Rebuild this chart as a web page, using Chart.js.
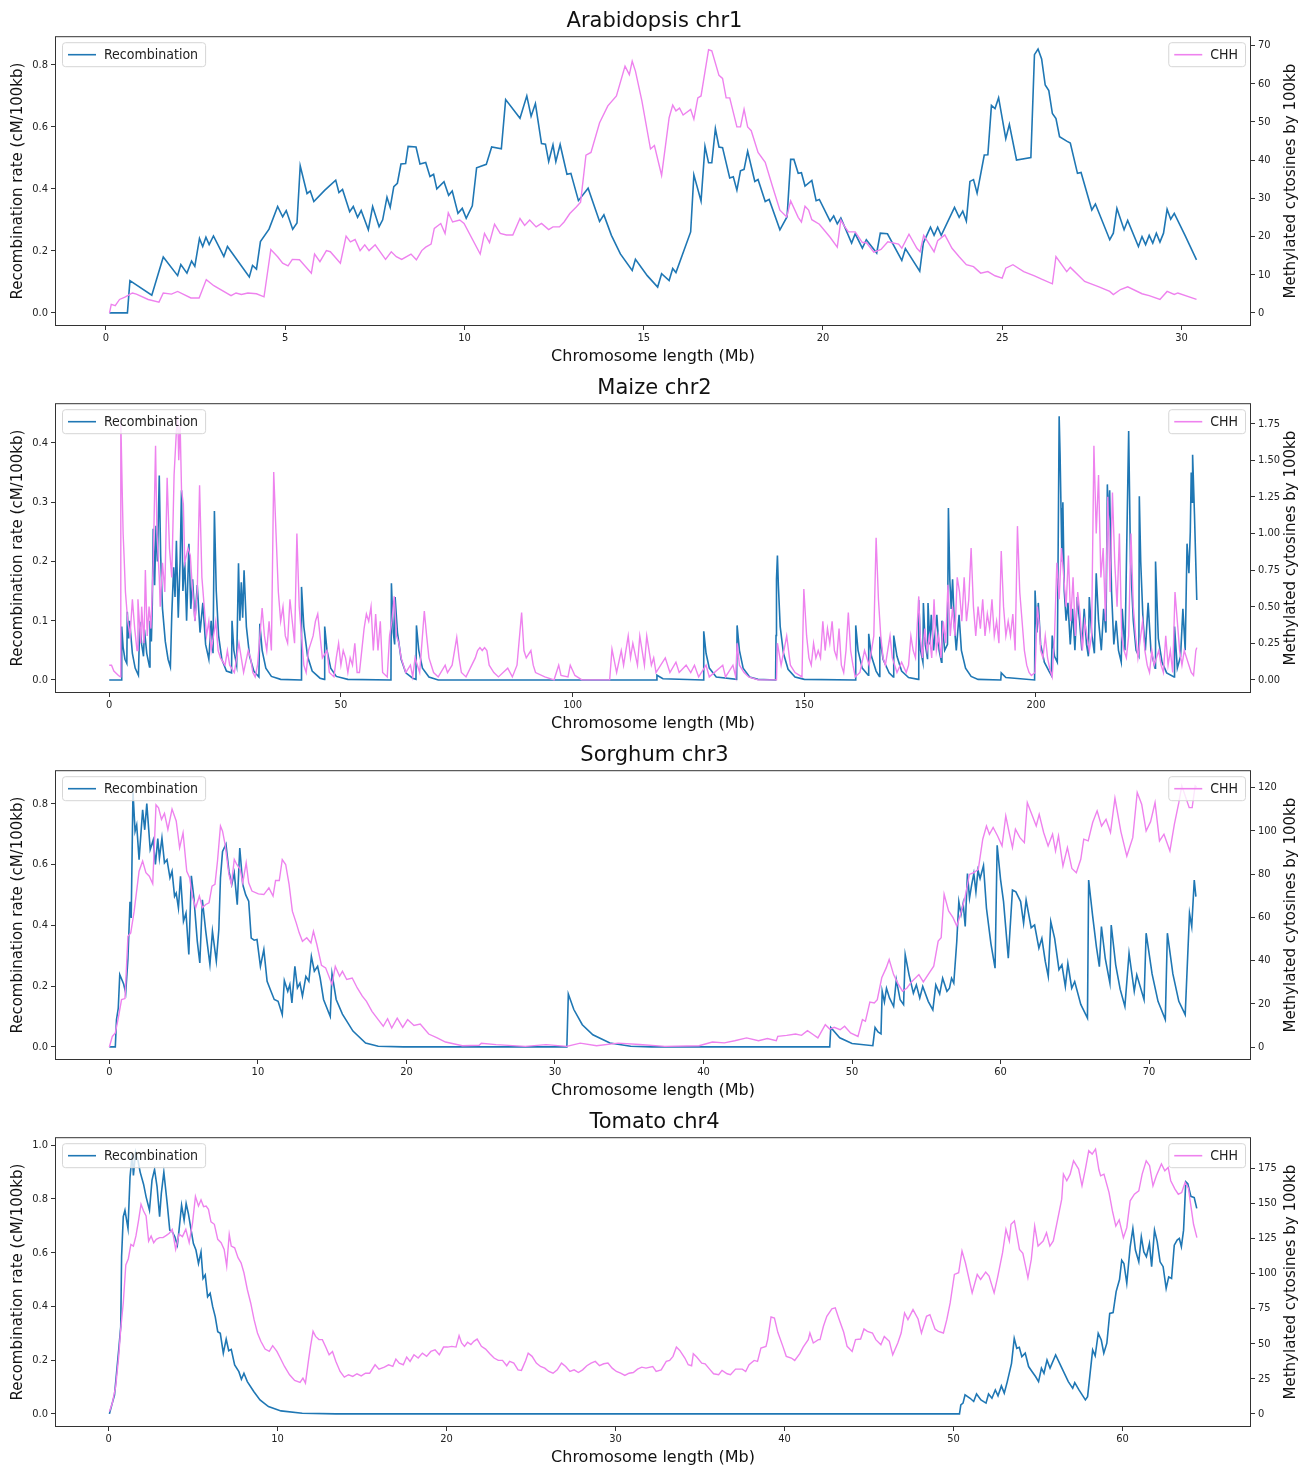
<!DOCTYPE html>
<html>
<head>
<meta charset="utf-8">
<script src="https://cdn.jsdelivr.net/npm/chart.js@4.4.1/dist/chart.umd.min.js"></script>
<style>
  body { margin: 0; background: #fff; width: 1309px; height: 1465px; overflow: hidden; position: relative; }
  .panel { position: absolute; left: 0; width: 1309px; height: 367px; }
</style>
</head>
<body>
<div class="panel" style="top:0"><canvas id="ara"></canvas></div>
<div class="panel" style="top:367px"><canvas id="maize"></canvas></div>
<div class="panel" style="top:734px"><canvas id="sorghum"></canvas></div>
<div class="panel" style="top:1101px"><canvas id="tomato"></canvas></div>
<script>
// ---- Data: [position (Mb), value] ----
const araRecombination = [[0.1,0],[0.6,0],[0.67,0.104],[1.28,0.057],[1.6,0.18],[2.0,0.12],[2.09,0.156],[2.26,0.128],[2.39,0.167],[2.48,0.15],[2.61,0.24],[2.7,0.214],[2.79,0.244],[2.88,0.22],[3.0,0.248],[3.29,0.182],[3.39,0.214],[4.0,0.116],[4.09,0.153],[4.2,0.141],[4.31,0.23],[4.55,0.27],[4.79,0.343],[4.93,0.31],[5.03,0.33],[5.21,0.27],[5.33,0.29],[5.42,0.474],[5.61,0.385],[5.7,0.393],[5.8,0.359],[6.1,0.395],[6.41,0.428],[6.5,0.388],[6.6,0.398],[6.8,0.326],[6.9,0.343],[7.02,0.308],[7.12,0.33],[7.32,0.268],[7.44,0.343],[7.62,0.278],[7.72,0.3],[7.84,0.373],[7.93,0.34],[8.03,0.407],[8.13,0.418],[8.23,0.48],[8.36,0.482],[8.43,0.537],[8.65,0.535],[8.76,0.48],[8.92,0.485],[9.04,0.44],[9.14,0.447],[9.23,0.4],[9.43,0.423],[9.56,0.379],[9.66,0.393],[9.82,0.321],[9.94,0.337],[10.05,0.305],[10.22,0.345],[10.34,0.468],[10.61,0.479],[10.76,0.535],[11.03,0.529],[11.15,0.688],[11.55,0.628],[11.74,0.7],[11.86,0.634],[11.98,0.675],[12.15,0.546],[12.26,0.544],[12.35,0.488],[12.47,0.542],[12.55,0.488],[12.67,0.543],[12.86,0.447],[12.97,0.45],[13.18,0.362],[13.45,0.402],[13.77,0.295],[13.89,0.316],[14.1,0.25],[14.35,0.19],[14.68,0.137],[14.77,0.173],[15.1,0.12],[15.39,0.083],[15.5,0.126],[15.71,0.104],[15.81,0.143],[15.9,0.13],[16.31,0.261],[16.4,0.445],[16.6,0.361],[16.71,0.537],[16.81,0.484],[16.9,0.484],[17.0,0.594],[17.1,0.535],[17.2,0.533],[17.4,0.435],[17.5,0.439],[17.6,0.396],[17.7,0.458],[17.8,0.463],[17.9,0.521],[18.1,0.424],[18.19,0.43],[18.39,0.359],[18.5,0.366],[18.8,0.268],[19.0,0.31],[19.1,0.495],[19.19,0.495],[19.31,0.45],[19.4,0.452],[19.5,0.409],[19.69,0.427],[19.81,0.362],[19.9,0.366],[20.2,0.296],[20.3,0.313],[20.4,0.287],[20.5,0.306],[20.8,0.225],[20.9,0.255],[21.1,0.209],[21.21,0.236],[21.5,0.193],[21.6,0.257],[21.8,0.255],[22.2,0.169],[22.3,0.207],[22.7,0.134],[22.8,0.225],[23.0,0.276],[23.1,0.25],[23.2,0.276],[23.3,0.25],[23.67,0.34],[23.8,0.308],[23.9,0.328],[24.0,0.296],[24.1,0.424],[24.2,0.43],[24.3,0.386],[24.5,0.509],[24.6,0.51],[24.7,0.669],[24.8,0.659],[24.9,0.694],[25.1,0.562],[25.2,0.608],[25.4,0.493],[25.8,0.501],[25.9,0.833],[26.0,0.851],[26.1,0.819],[26.2,0.735],[26.3,0.717],[26.4,0.643],[26.5,0.627],[26.6,0.568],[26.8,0.554],[26.9,0.548],[27.1,0.45],[27.2,0.453],[27.5,0.332],[27.6,0.351],[28.0,0.236],[28.1,0.257],[28.2,0.337],[28.4,0.268],[28.5,0.298],[28.8,0.214],[28.9,0.246],[29.0,0.22],[29.1,0.25],[29.2,0.225],[29.3,0.257],[29.4,0.228],[29.5,0.257],[29.6,0.334],[29.7,0.302],[29.8,0.321],[30.1,0.25],[30.42,0.171]];
const araCHH = [[0.1,0],[0.15,2.2],[0.26,1.9],[0.38,3.5],[0.53,4.1],[0.74,5.2],[0.85,4.9],[1.18,3.5],[1.48,2.8],[1.6,5.2],[1.83,4.9],[2.0,5.6],[2.37,3.9],[2.6,3.9],[2.8,8.7],[3.01,7.1],[3.49,4.5],[3.63,5.2],[3.78,4.8],[3.96,5.2],[4.2,5.0],[4.41,4.2],[4.6,16.6],[4.79,14.7],[4.93,13.0],[5.08,12.3],[5.2,14.0],[5.4,13.9],[5.73,10.4],[5.82,15.4],[5.97,13.4],[6.15,16.3],[6.26,16.0],[6.54,13.0],[6.7,20.1],[6.82,18.6],[6.95,19.2],[7.09,16.3],[7.22,17.8],[7.34,16.3],[7.51,17.8],[7.8,14.0],[7.96,16.0],[8.1,14.7],[8.25,14.0],[8.51,15.4],[8.66,13.9],[8.81,16.3],[8.92,17.2],[9.07,18.0],[9.16,22.1],[9.34,23.4],[9.46,20.8],[9.55,26.2],[9.67,23.8],[9.87,24.3],[9.99,23.4],[10.44,15.4],[10.56,20.8],[10.7,18.4],[10.84,23.2],[11.0,20.8],[11.17,20.4],[11.35,20.4],[11.55,24.7],[11.68,22.9],[11.82,24.3],[12.0,22.5],[12.15,23.4],[12.35,21.8],[12.47,22.5],[12.65,22.5],[12.78,23.8],[12.94,26.0],[13.12,27.7],[13.24,29.0],[13.39,41.3],[13.53,42.0],[13.77,49.8],[14.0,54.2],[14.24,56.8],[14.48,64.6],[14.6,62.4],[14.68,65.9],[14.77,63.3],[14.95,55.5],[15.19,42.9],[15.3,43.8],[15.5,36.0],[15.71,51.1],[15.81,54.4],[15.9,52.9],[16.0,53.6],[16.1,51.8],[16.31,53.3],[16.4,50.7],[16.51,56.3],[16.6,56.8],[16.81,68.9],[16.9,68.6],[17.1,62.2],[17.2,61.4],[17.3,56.3],[17.4,56.3],[17.6,48.7],[17.7,48.7],[17.8,53.3],[17.9,48.7],[18.0,47.7],[18.19,42.0],[18.39,39.4],[18.6,32.9],[18.8,26.9],[18.99,25.1],[19.1,29.3],[19.31,25.0],[19.4,23.8],[19.5,27.9],[19.6,26.9],[19.69,24.4],[19.9,23.2],[20.2,19.8],[20.4,17.2],[20.5,24.3],[20.6,22.7],[20.71,21.2],[20.9,21.2],[21.1,18.4],[21.21,18.4],[21.42,15.9],[21.62,16.6],[21.81,18.6],[22.11,18.0],[22.2,16.9],[22.4,20.6],[22.62,16.9],[22.71,16.0],[22.81,20.3],[23.0,17.5],[23.1,16.0],[23.2,18.9],[23.4,20.4],[23.6,16.9],[23.8,14.7],[24.0,12.6],[24.2,12.1],[24.4,10.4],[24.6,10.8],[24.8,9.7],[25.0,9.1],[25.1,11.7],[25.3,12.6],[25.6,10.8],[25.9,9.7],[26.1,8.8],[26.4,7.6],[26.5,14.7],[26.8,10.8],[26.9,11.9],[27.3,8.2],[27.7,6.8],[28.0,5.6],[28.1,4.8],[28.3,6.1],[28.5,6.8],[28.9,5.0],[29.1,4.5],[29.4,3.5],[29.6,5.6],[29.8,4.8],[29.9,5.2],[30.42,3.5]];

const maizeRecombination = [[0,0],[2.6,0],[2.7,0.09],[3.0,0.055],[3.4,0.035],[3.8,0.028],[3.9,0.115],[4.2,0.07],[4.4,0.1],[5.0,0.045],[5.6,0.02],[6.3,0.008],[6.6,0.098],[7.0,0.06],[7.4,0.04],[7.6,0.085],[8.1,0.045],[8.7,0.022],[8.8,0.1],[9.1,0.065],[9.3,0.13],[9.5,0.255],[9.8,0.16],[10.1,0.26],[10.4,0.2],[10.8,0.345],[11.1,0.21],[11.5,0.12],[12.1,0.065],[12.7,0.035],[13.2,0.022],[13.5,0.11],[13.9,0.19],[14.2,0.14],[14.5,0.235],[14.9,0.105],[15.3,0.2],[15.6,0.32],[15.9,0.15],[16.3,0.2],[16.7,0.1],[17.2,0.23],[17.6,0.12],[18.0,0.17],[18.5,0.1],[19.0,0.16],[19.6,0.08],[20.2,0.13],[20.8,0.06],[21.5,0.035],[22.0,0.1],[22.4,0.045],[22.7,0.285],[23.1,0.15],[23.6,0.075],[24.3,0.035],[25.3,0.015],[26.4,0.012],[26.5,0.1],[26.9,0.05],[27.5,0.025],[27.9,0.197],[28.2,0.1],[28.5,0.165],[28.8,0.105],[29.1,0.185],[29.6,0.09],[30.3,0.04],[31.2,0.015],[32.3,0.005],[32.5,0.095],[33.0,0.05],[33.8,0.02],[35.0,0.006],[37.0,0.001],[41.4,0],[41.5,0.157],[42.0,0.09],[42.8,0.04],[43.8,0.015],[45.5,0.003],[46.4,0.001],[46.5,0.09],[47.0,0.05],[47.8,0.02],[49.0,0.006],[51.5,0.001],[60.8,0],[60.9,0.163],[61.3,0.08],[61.6,0.06],[61.7,0.14],[62.2,0.08],[63.0,0.035],[64.0,0.012],[65.5,0.003],[66.2,0.001],[66.3,0.092],[66.8,0.05],[67.6,0.02],[69.0,0.005],[71,0],[118,0],[118.2,0.008],[119.5,0.002],[128.2,0],[128.3,0.082],[128.8,0.045],[129.5,0.02],[131,0.005],[135.4,0.001],[135.5,0.092],[136.0,0.05],[136.8,0.02],[138.2,0.005],[140,0.001],[143.8,0],[143.9,0.075],[144.0,0.17],[144.2,0.21],[144.4,0.16],[144.8,0.09],[145.5,0.045],[146.5,0.018],[148,0.005],[150,0.001],[161,0],[161.1,0.092],[161.6,0.05],[162.5,0.02],[163.8,0.008],[163.9,0.078],[164.5,0.04],[165.5,0.015],[166.2,0.006],[166.3,0.073],[167,0.035],[168.3,0.012],[169.2,0.005],[169.3,0.075],[170,0.04],[171,0.015],[172.5,0.004],[174.6,0.001],[174.7,0.135],[175.1,0.05],[175.6,0.03],[175.7,0.13],[176.1,0.06],[176.6,0.035],[176.7,0.13],[177.1,0.06],[177.4,0.11],[177.9,0.05],[178.6,0.11],[179.1,0.05],[179.6,0.03],[179.7,0.1],[180.3,0.05],[180.9,0.06],[181.1,0.29],[181.4,0.17],[181.7,0.12],[182.0,0.17],[182.4,0.09],[182.8,0.05],[183.4,0.11],[183.9,0.05],[184.8,0.02],[186,0.006],[187.5,0.001],[192.4,0],[192.5,0.012],[193.5,0.004],[199.7,0],[199.8,0.151],[200.2,0.08],[200.5,0.13],[201,0.06],[201.8,0.03],[202.8,0.015],[203.3,0.008],[203.5,0.075],[204,0.04],[204.6,0.03],[205.0,0.445],[205.2,0.38],[205.4,0.29],[205.6,0.2],[205.8,0.3],[206.1,0.15],[206.5,0.1],[206.9,0.13],[207.4,0.06],[207.9,0.12],[208.4,0.05],[208.9,0.14],[209.4,0.1],[209.9,0.05],[210.4,0.12],[210.9,0.06],[211.3,0.04],[211.5,0.14],[212.0,0.08],[212.6,0.045],[213.0,0.18],[213.5,0.1],[214.1,0.05],[214.6,0.12],[215.1,0.08],[215.4,0.33],[215.6,0.27],[215.9,0.32],[216.3,0.15],[216.8,0.06],[217.3,0.1],[217.8,0.05],[218.4,0.03],[218.6,0.12],[219.2,0.05],[220.0,0.42],[220.4,0.2],[221.0,0.1],[221.6,0.05],[222.2,0.04],[222.3,0.31],[222.6,0.2],[223.1,0.1],[223.6,0.05],[224.2,0.13],[224.8,0.05],[225.7,0.02],[225.8,0.2],[226.4,0.07],[227.2,0.03],[228.2,0.012],[229.8,0.005],[229.9,0.09],[230.5,0.02],[231.2,0.04],[231.7,0.12],[232.2,0.05],[232.6,0.23],[233.0,0.18],[233.3,0.25],[233.5,0.35],[233.7,0.3],[233.8,0.38],[234.2,0.28],[234.7,0.135]];
const maizeCHH = [[0,0.1],[0.5,0.1],[1.0,0.06],[2.0,0.03],[2.4,0.02],[2.5,1.78],[2.8,1.3],[3.0,1.0],[3.2,0.85],[3.5,0.6],[4.0,0.4],[4.5,0.3],[5.0,0.55],[5.5,0.35],[6.0,0.2],[6.2,0.55],[6.8,0.25],[7.0,0.5],[7.5,0.25],[7.8,0.75],[8.2,0.3],[8.6,0.5],[9.0,0.35],[9.5,0.8],[10.0,1.6],[10.3,1.0],[10.8,0.7],[11.0,0.5],[11.5,0.8],[12.0,0.6],[12.5,1.38],[13.0,0.9],[13.5,0.7],[14.0,1.4],[14.5,1.7],[14.8,1.8],[15.0,1.5],[15.3,1.75],[15.6,1.3],[16.0,1.2],[16.3,0.8],[17.0,0.9],[17.5,0.85],[18.0,0.6],[18.5,0.4],[19.0,0.6],[19.5,1.33],[20.0,0.7],[20.5,0.5],[21.0,0.3],[21.5,0.4],[22.0,0.2],[23.0,0.4],[23.5,0.2],[24.0,0.15],[25.0,0.1],[25.5,0.2],[26.0,0.1],[27.0,0.05],[28.0,0.25],[28.5,0.15],[29.0,0.05],[30.0,0.2],[30.5,0.15],[31.0,0.05],[31.5,0.02],[32.0,0.1],[33.0,0.49],[33.5,0.3],[34.0,0.2],[34.5,0.4],[35.0,0.2],[35.5,1.42],[36.0,1.0],[36.5,0.6],[37.0,0.4],[37.5,0.5],[38.0,0.3],[38.5,0.25],[39.0,0.55],[39.5,0.4],[40.0,0.25],[40.5,1.0],[41.0,0.5],[41.5,0.3],[42.0,0.1],[42.5,0.05],[43.0,0.2],[44.0,0.3],[44.5,0.4],[45.0,0.45],[45.5,0.3],[46.0,0.15],[47.0,0.2],[47.5,0.05],[48.5,0.02],[49.0,0.15],[49.5,0.25],[50.0,0.1],[50.5,0.2],[51.0,0.15],[51.5,0.05],[52.0,0.15],[52.5,0.1],[53.0,0.25],[53.5,0.05],[54.0,0.05],[55.0,0.35],[55.5,0.45],[56.0,0.4],[56.5,0.5],[57.0,0.2],[57.5,0.45],[58.0,0.2],[58.5,0.4],[59.0,0.05],[60.0,0.02],[60.5,0.3],[61.0,0.4],[61.5,0.57],[62.0,0.3],[62.5,0.25],[63.0,0.15],[64.0,0.05],[65.0,0.1],[65.5,0.02],[66.0,0.15],[67.0,0.05],[68.0,0.47],[68.5,0.3],[69.0,0.15],[70.0,0.05],[71.0,0.02],[72.5,0.1],[73.0,0.05],[74.0,0.1],[75.0,0.29],[75.5,0.15],[76.0,0.05],[77.0,0.02],[79.0,0.15],[79.5,0.2],[80.0,0.22],[80.5,0.2],[81.0,0.22],[81.5,0.2],[82.0,0.1],[83.0,0.05],[84.0,0.02],[86.0,0.08],[87.0,0.02],[88.0,0.1],[89.0,0.46],[89.5,0.2],[90.0,0.15],[91.0,0.2],[91.5,0.1],[92.0,0.05],[94.0,0.02],[96.0,0],[97.0,0.1],[97.5,0.03],[99.0,0.02],[99.5,0.1],[100.5,0.03],[102.0,0],[108.0,0],[108.5,0.21],[109.5,0.05],[110.5,0.2],[111.0,0.1],[112.0,0.3],[112.5,0.15],[113.0,0.25],[114.0,0.1],[114.5,0.3],[115.5,0.1],[116.0,0.3],[116.5,0.2],[117.0,0.1],[117.5,0.15],[118.0,0.05],[120.0,0.15],[121.0,0.05],[122.3,0.12],[123.0,0.05],[124.5,0.1],[125.5,0.05],[126.3,0.1],[127.2,0.02],[128.8,0.1],[129.5,0.02],[132.4,0.1],[133.0,0.02],[134.6,0.1],[135.2,0.02],[135.5,0.25],[136.0,0.1],[137.0,0.05],[138.0,0.02],[140.0,0],[144.0,0],[144.2,0.25],[145.0,0.1],[146.2,0.3],[147.0,0.1],[148.0,0.05],[149.5,0.02],[149.9,0.62],[150.5,0.3],[151.0,0.15],[151.5,0.1],[152.0,0.25],[152.5,0.15],[153.0,0.2],[153.5,0.15],[154.0,0.4],[154.5,0.2],[155.0,0.35],[155.5,0.25],[156.0,0.4],[156.5,0.2],[157.0,0.15],[157.5,0.35],[158.0,0.1],[158.5,0.05],[159.0,0.2],[159.5,0.46],[160.0,0.2],[160.5,0.1],[161.0,0.02],[162.0,0.05],[163.0,0.2],[164.0,0.1],[165.0,0.3],[165.5,0.97],[166.0,0.55],[166.5,0.3],[167.0,0.15],[167.5,0.1],[168.5,0.3],[169.0,0.15],[170.0,0.05],[171.0,0.12],[172.0,0.05],[172.5,0.1],[173.0,0.3],[173.5,0.2],[174.0,0.15],[174.7,0.57],[175.0,0.3],[175.5,0.15],[176.0,0.35],[176.5,0.2],[177.0,0.3],[177.5,0.15],[178.0,0.55],[178.5,0.2],[179.0,0.3],[179.5,0.15],[180.0,0.4],[180.5,0.25],[181.0,0.65],[181.5,0.3],[182.0,0.5],[182.5,0.3],[183.0,0.7],[183.5,0.6],[184.0,0.4],[184.5,0.7],[185.0,0.4],[185.5,0.55],[186.0,0.9],[186.5,0.5],[187.0,0.3],[187.5,0.5],[188.0,0.35],[188.5,0.55],[189.0,0.3],[189.5,0.45],[190.0,0.35],[190.5,0.55],[191.0,0.3],[191.5,0.4],[192.0,0.25],[192.5,0.88],[193.0,0.5],[193.5,0.3],[194.0,0.4],[194.5,0.3],[195.0,0.45],[195.5,0.2],[196.0,1.05],[196.5,0.6],[197.0,0.4],[197.5,0.2],[198.0,0.1],[198.5,0.05],[199.0,0.03],[199.8,0.05],[200.3,0.5],[200.8,0.35],[201.0,0.2],[201.5,0.15],[202.0,0.3],[202.5,0.15],[203.0,0.07],[203.5,0.02],[204.0,0.3],[204.5,0.8],[205.0,0.55],[205.5,0.9],[206.0,0.7],[206.5,0.5],[207.0,0.85],[207.5,0.4],[208.0,0.7],[208.5,0.3],[209.0,0.6],[209.5,0.45],[210.0,0.2],[210.5,0.4],[211.5,0.2],[212.0,0.3],[212.5,1.6],[213.0,1.0],[213.5,1.4],[214.0,0.7],[214.5,0.9],[215.0,0.4],[215.5,1.25],[216.0,0.6],[216.5,1.28],[217.0,0.8],[217.5,0.5],[218.0,1.0],[218.5,0.3],[219.0,0.2],[219.5,0.15],[220.0,0.3],[220.5,1.0],[221.0,0.5],[221.5,0.3],[222.0,0.15],[223.0,0.4],[223.5,0.2],[224.0,0.1],[224.5,0.05],[225.0,0.2],[225.5,0.1],[226.0,0.15],[226.5,0.2],[227.0,0.1],[227.5,0.05],[228.0,0.3],[228.5,0.1],[229.0,0.2],[229.5,0.05],[230.0,0.6],[230.5,0.4],[231.0,0.2],[231.5,0.1],[232.0,0.2],[233.0,0.1],[233.5,0.05],[234.0,0.03],[234.5,0.2],[234.7,0.22]];

const sorghumRecombination = [[0,0],[0.4,0],[0.48,0.09],[0.6,0.128],[0.7,0.238],[0.96,0.207],[1.1,0.178],[1.25,0.29],[1.39,0.477],[1.47,0.424],[1.59,0.84],[1.73,0.709],[1.84,0.73],[2.0,0.616],[2.24,0.78],[2.38,0.714],[2.52,0.8],[2.75,0.649],[2.95,0.68],[3.1,0.6],[3.26,0.685],[3.37,0.621],[3.54,0.687],[3.71,0.605],[3.88,0.616],[4.08,0.556],[4.22,0.578],[4.39,0.495],[4.5,0.506],[4.65,0.457],[4.79,0.561],[4.99,0.413],[5.16,0.44],[5.35,0.304],[5.52,0.563],[5.69,0.49],[5.92,0.347],[6.09,0.276],[6.26,0.484],[6.49,0.38],[6.77,0.271],[6.94,0.38],[7.2,0.282],[7.37,0.386],[7.48,0.556],[7.62,0.643],[7.85,0.667],[8.05,0.578],[8.24,0.534],[8.41,0.572],[8.61,0.468],[8.78,0.654],[8.98,0.534],[9.18,0.5],[9.38,0.479],[9.55,0.358],[9.75,0.351],[9.94,0.353],[10.17,0.265],[10.4,0.32],[10.62,0.216],[10.88,0.183],[11.1,0.156],[11.36,0.15],[11.64,0.106],[11.78,0.218],[12.01,0.183],[12.15,0.205],[12.29,0.145],[12.49,0.265],[12.66,0.194],[12.83,0.21],[13.0,0.167],[13.23,0.232],[13.43,0.216],[13.6,0.298],[13.8,0.249],[14.02,0.265],[14.19,0.227],[14.42,0.156],[14.87,0.1],[14.99,0.24],[15.27,0.156],[15.69,0.108],[15.92,0.09],[16.4,0.052],[17.25,0.013],[18.1,0.002],[19.8,0],[30.8,0],[30.9,0.174],[31.27,0.123],[31.84,0.073],[32.55,0.04],[33.7,0.013],[35.1,0.002],[36.5,0],[48.5,0],[48.57,0.064],[49.17,0.03],[50.0,0.011],[51.4,0.004],[51.55,0.064],[51.75,0.049],[51.95,0.043],[52.03,0.183],[52.18,0.148],[52.32,0.193],[52.52,0.161],[52.8,0.133],[52.98,0.221],[53.24,0.155],[53.47,0.139],[53.58,0.303],[53.84,0.237],[54.13,0.177],[54.33,0.204],[54.56,0.161],[54.76,0.199],[55.13,0.15],[55.44,0.122],[55.64,0.204],[55.9,0.174],[56.1,0.226],[56.39,0.183],[56.56,0.193],[56.7,0.226],[56.85,0.21],[57.05,0.346],[57.19,0.478],[57.34,0.436],[57.48,0.472],[57.62,0.396],[57.77,0.57],[57.91,0.489],[58.05,0.532],[58.2,0.57],[58.34,0.51],[58.48,0.581],[58.62,0.554],[58.85,0.596],[59.05,0.456],[59.35,0.34],[59.63,0.259],[59.77,0.663],[60.0,0.55],[60.2,0.478],[60.52,0.292],[60.8,0.516],[61.03,0.51],[61.35,0.478],[61.55,0.407],[61.72,0.483],[62.06,0.392],[62.29,0.401],[62.58,0.325],[62.78,0.357],[63.01,0.281],[63.21,0.232],[63.38,0.412],[63.64,0.357],[63.93,0.254],[64.13,0.27],[64.36,0.199],[64.53,0.275],[64.79,0.193],[64.99,0.215],[65.4,0.14],[65.85,0.095],[65.93,0.549],[66.2,0.43],[66.45,0.33],[66.65,0.264],[66.79,0.396],[67.05,0.29],[67.36,0.21],[67.45,0.401],[67.75,0.27],[68.05,0.19],[68.37,0.133],[68.65,0.308],[69.0,0.183],[69.17,0.237],[69.66,0.155],[69.8,0.374],[70.2,0.24],[70.6,0.15],[71.09,0.09],[71.23,0.374],[71.6,0.24],[72.0,0.15],[72.43,0.106],[72.72,0.439],[72.87,0.396],[73.04,0.549],[73.15,0.494]];
const sorghumCHH = [[0,0],[0.2,4.9],[0.4,6.5],[0.6,13.4],[0.82,21.9],[1.05,22.4],[1.25,51.2],[1.44,52.8],[1.67,62.8],[2.0,81.3],[2.24,86],[2.46,80.6],[2.69,79],[2.92,75.5],[3.14,112],[3.31,110.6],[3.51,105.2],[3.71,108],[3.94,100.6],[4.22,110],[4.5,104.5],[4.73,92.1],[4.96,99],[5.21,81.3],[5.41,78.2],[5.58,69.8],[5.81,64.4],[6.06,69.8],[6.26,64.4],[6.49,65.9],[6.71,66.7],[6.91,74.4],[7.11,75.2],[7.28,86],[7.48,102.2],[7.62,99.8],[7.79,93.7],[8.05,79.8],[8.22,75.2],[8.41,86.7],[8.58,84.4],[8.81,82.1],[8.98,75.9],[9.21,85.2],[9.38,75.9],[9.6,72.1],[10.03,70.8],[10.4,70.5],[10.74,73.6],[11.02,69.8],[11.19,77],[11.44,77],[11.64,86.7],[11.87,84.4],[12.1,75.2],[12.32,62.8],[12.58,57.4],[12.78,52.8],[13.0,48.9],[13.29,50.5],[13.57,48.1],[13.74,53.5],[13.97,47.4],[14.28,37.8],[14.56,36.6],[14.99,28.9],[15.21,37.3],[15.5,32.7],[15.69,35],[15.98,31.2],[16.35,31.9],[16.69,27.3],[17.03,23.5],[17.31,21.1],[17.68,16.5],[18.1,12.7],[18.44,9.6],[18.73,13.1],[19.01,8.8],[19.38,13.4],[19.75,9.1],[20.08,12.7],[20.51,10],[20.93,10.6],[21.5,6],[22.07,4.2],[22.63,2.3],[23.77,0.6],[24.9,0.8],[25.04,1.7],[26.03,1.1],[28.0,0.3],[29.4,1.1],[30.8,0.3],[31.7,1.8],[32.8,0.6],[34.25,1.8],[35.7,1.2],[37.4,0.3],[39.7,0.6],[40.6,2.3],[41.4,1.9],[42.1,2.9],[42.9,4.2],[43.7,2.9],[44.3,3.9],[44.9,2.9],[45.0,4.9],[45.6,5.4],[46.2,6.0],[46.6,5.4],[47.0,7.6],[47.4,5.7],[47.7,4.2],[48.2,10.3],[48.5,8.3],[48.8,9.1],[49.2,8.0],[49.5,9.6],[49.9,6.5],[50.4,4.9],[50.7,12.7],[50.9,11.9],[51.2,20.8],[51.5,20.4],[51.7,21.9],[52.0,32],[52.3,36.6],[52.5,40.5],[52.8,33.5],[53.1,29.2],[53.4,25.8],[53.7,27.3],[54.0,30.1],[54.5,33.5],[54.8,30.1],[55.2,34.3],[55.5,37.4],[55.8,49],[56.0,50.5],[56.2,70.6],[56.5,62.9],[56.8,59.8],[57.05,55.9],[57.3,61.3],[57.6,69],[57.9,79.8],[58.2,80.6],[58.5,82.2],[58.8,96.1],[59.05,102.2],[59.25,98.4],[59.5,101.5],[59.8,97.6],[60.1,93],[60.35,106.9],[60.6,98.4],[60.8,92.2],[61.0,100.7],[61.3,96.8],[61.6,94.5],[61.8,113],[62.1,107.6],[62.4,102.2],[62.6,107.6],[62.9,99.2],[63.2,93],[63.5,98.4],[63.7,90.7],[63.9,97.6],[64.2,83.7],[64.5,92.2],[64.8,82.6],[65.1,80.6],[65.4,86.8],[65.6,96.1],[65.9,95.3],[66.2,103.8],[66.5,109.2],[66.8,102.2],[67.1,105.3],[67.4,99.2],[67.7,115.1],[68.1,99.6],[68.5,88.3],[68.9,96.8],[69.2,117.7],[69.5,112.3],[69.8,99.9],[70.1,104.2],[70.4,113],[70.7,95.3],[71.0,98.4],[71.4,90.7],[71.7,103],[72.0,113],[72.2,120.8],[72.7,110.7],[72.9,110.7],[73.1,120.8],[73.2,120]];

const tomatoRecombination = [[0.05,0],[0.22,0.04],[0.35,0.07],[0.47,0.151],[0.6,0.238],[0.72,0.325],[0.77,0.585],[0.87,0.734],[0.97,0.758],[1.15,0.69],[1.27,0.882],[1.4,0.969],[1.47,0.888],[1.6,0.975],[1.72,0.95],[1.87,0.9],[2.07,0.855],[2.22,0.808],[2.42,0.758],[2.57,0.87],[2.72,0.91],[2.87,0.845],[3.02,0.734],[3.12,0.82],[3.27,0.9],[3.47,0.783],[3.62,0.684],[3.77,0.678],[3.92,0.659],[4.07,0.628],[4.17,0.684],[4.32,0.777],[4.47,0.721],[4.59,0.783],[4.72,0.746],[4.87,0.69],[5.02,0.634],[5.17,0.61],[5.32,0.56],[5.47,0.603],[5.59,0.504],[5.72,0.517],[5.86,0.436],[6.01,0.449],[6.16,0.399],[6.31,0.362],[6.46,0.306],[6.61,0.3],[6.79,0.226],[6.96,0.278],[7.11,0.235],[7.26,0.24],[7.46,0.182],[7.71,0.157],[7.86,0.129],[8.01,0.151],[8.21,0.12],[8.59,0.083],[8.96,0.052],[9.46,0.027],[10.2,0.011],[11.46,0.002],[13.45,0],[50.35,0],[50.43,0.033],[50.56,0.04],[50.68,0.071],[50.98,0.058],[51.19,0.046],[51.36,0.074],[51.62,0.052],[51.92,0.04],[52.07,0.074],[52.27,0.058],[52.47,0.089],[52.63,0.067],[52.83,0.104],[53.0,0.077],[53.18,0.12],[53.43,0.188],[53.59,0.281],[53.74,0.244],[53.89,0.248],[54.04,0.213],[54.24,0.226],[54.44,0.176],[54.65,0.157],[54.85,0.139],[55.03,0.12],[55.2,0.17],[55.35,0.151],[55.53,0.2],[55.71,0.17],[56.04,0.219],[56.41,0.17],[56.79,0.12],[57.05,0.095],[57.17,0.116],[57.42,0.089],[57.8,0.052],[57.93,0.064],[58.23,0.238],[58.38,0.216],[58.56,0.3],[58.74,0.275],[58.89,0.226],[59.07,0.263],[59.24,0.374],[59.44,0.377],[59.62,0.455],[59.82,0.5],[59.95,0.572],[60.08,0.56],[60.25,0.486],[60.45,0.622],[60.61,0.69],[60.76,0.61],[60.96,0.566],[61.11,0.659],[61.26,0.603],[61.41,0.585],[61.59,0.634],[61.72,0.548],[61.89,0.684],[62.05,0.641],[62.22,0.566],[62.4,0.548],[62.58,0.467],[62.73,0.51],[62.9,0.504],[63.06,0.628],[63.23,0.647],[63.36,0.653],[63.48,0.622],[63.61,0.684],[63.74,0.864],[63.86,0.857],[64.04,0.81],[64.24,0.805],[64.39,0.765]];
const tomatoCHH = [[0.05,1.7],[0.22,7.6],[0.42,19.5],[0.6,41],[0.72,60.5],[0.87,79],[1.02,106],[1.17,110.5],[1.32,120.7],[1.47,119.5],[1.62,126.7],[1.77,137.4],[1.92,149.3],[2.07,144.5],[2.22,141],[2.37,123],[2.52,126.7],[2.67,121.9],[2.82,124.3],[3.02,125.5],[3.22,125.5],[3.42,127.1],[3.59,128.6],[3.77,131.4],[3.97,117.1],[4.17,127.9],[4.37,126.2],[4.57,131.4],[4.77,121.9],[4.97,136.2],[5.14,154.8],[5.32,148],[5.47,152.4],[5.62,147.6],[5.77,148],[5.91,145.7],[6.06,136.7],[6.26,135],[6.46,124.3],[6.66,121.9],[6.84,117.1],[6.99,105.2],[7.14,127.9],[7.26,119.5],[7.46,118.3],[7.66,111.2],[7.84,107.6],[8.01,100.5],[8.21,88.6],[8.41,79],[8.61,67.1],[8.81,57.6],[9.01,51.7],[9.26,46.2],[9.51,44.5],[9.71,48.6],[9.96,44.5],[10.16,39.8],[10.41,33.8],[10.71,27.9],[11.01,23.8],[11.33,22.4],[11.5,25.5],[11.65,21.9],[11.83,38.1],[11.95,48.1],[12.1,58.8],[12.25,55.2],[12.45,52.9],[12.65,52.9],[12.85,47.6],[13.05,42.1],[13.25,44.5],[13.45,37.4],[13.7,30.2],[13.95,26.2],[14.2,27.9],[14.45,26.7],[14.7,28.6],[14.95,27.1],[15.2,29],[15.45,29],[15.77,35],[16.0,31.9],[16.32,33.3],[16.57,35],[16.82,33.8],[17.0,39],[17.2,36.2],[17.44,35],[17.64,40.5],[17.84,37.4],[18.07,42.1],[18.32,39.8],[18.57,43.3],[18.82,41],[19.07,44.5],[19.32,45.7],[19.57,42.1],[19.82,47.6],[20.06,47.6],[20.31,48.1],[20.56,47.6],[20.74,55.7],[20.89,50.5],[21.06,48.1],[21.24,51],[21.44,49.3],[21.61,51.7],[21.81,53.3],[22.06,48.1],[22.31,46.2],[22.56,42.9],[22.81,39.8],[23.06,38.1],[23.31,38.1],[23.56,34.3],[23.73,37.4],[23.98,36.2],[24.23,31.4],[24.43,31],[24.68,38.1],[24.83,43.3],[25.06,41],[25.31,36.2],[25.56,33.8],[25.81,32.6],[26.05,30.2],[26.3,29],[26.55,31.4],[26.8,36.2],[27.05,33.8],[27.3,30.2],[27.55,31.4],[27.8,29.5],[28.05,31.4],[28.3,34.3],[28.55,36.2],[28.8,37.4],[29.05,34.3],[29.3,35.7],[29.55,36.2],[29.8,32.6],[30.05,30.2],[30.3,29],[30.55,27.4],[30.8,29],[31.05,29.5],[31.3,31.9],[31.55,33.3],[31.8,32.6],[32.2,33.8],[32.4,30.2],[32.7,31.4],[33.0,37.4],[33.2,38.1],[33.4,41],[33.6,47.6],[33.8,45.2],[34.1,39.8],[34.3,35],[34.5,34.3],[34.6,42.9],[34.8,40.5],[35.1,36.2],[35.3,35.7],[35.6,31.4],[35.8,28.6],[36.1,27.9],[36.3,31],[36.6,28.6],[36.8,27.9],[37.1,31.9],[37.5,31.9],[37.7,30.2],[37.9,35],[38.2,38.1],[38.4,37.4],[38.6,46.9],[38.9,48.1],[39.0,52.9],[39.2,69],[39.4,68.3],[39.6,58.1],[39.9,48.1],[40.1,41],[40.4,39.8],[40.6,38.1],[40.9,42.9],[41.1,47.6],[41.4,52.9],[41.5,57.6],[41.7,50.5],[42.0,52.9],[42.1,52.9],[42.3,62.4],[42.5,69.5],[42.8,74.8],[43.0,75.5],[43.2,68.3],[43.5,58.1],[43.7,48.1],[44.0,44.5],[44.2,52.9],[44.5,53.3],[44.7,60.5],[44.9,58.8],[45.2,57.6],[45.4,52.9],[45.7,49.3],[45.9,55.2],[46.2,51.7],[46.4,42.1],[46.7,50.5],[46.9,57.6],[47.1,71.9],[47.3,67.1],[47.6,74.3],[47.9,67.6],[48.1,57.6],[48.4,69.5],[48.6,70.7],[48.9,60.5],[49.1,58.8],[49.4,57.6],[49.6,67.1],[49.8,79],[50.05,99.3],[50.3,100.5],[50.5,116],[50.7,107.6],[50.9,96.9],[51.1,86.2],[51.4,99.3],[51.6,95.7],[51.9,101],[52.1,98.1],[52.4,86.2],[52.6,96.9],[52.9,114.8],[53.1,131.4],[53.3,123.1],[53.4,135],[53.6,137.4],[53.9,117.1],[54.1,114.3],[54.3,102.9],[54.4,96.9],[54.6,110],[54.8,133.8],[55.0,119.5],[55.3,123.1],[55.5,129],[55.7,119.5],[55.9,123.1],[56.1,135],[56.4,152.9],[56.5,170.7],[56.7,166],[56.9,170.7],[57.1,180.2],[57.4,174.3],[57.6,162.4],[57.8,174.3],[58.0,187.4],[58.2,185],[58.4,188.6],[58.6,173.8],[58.7,169.5],[58.9,170.7],[59.2,157.6],[59.4,144.5],[59.6,133.8],[59.8,138.1],[60.05,125.5],[60.25,132.6],[60.45,151.7],[60.7,156.4],[60.96,158.8],[61.16,170.7],[61.4,180.2],[61.6,176.7],[61.8,162.4],[62.0,169.5],[62.3,177.9],[62.5,173.1],[62.7,175.5],[62.85,166],[63.1,160],[63.3,156.4],[63.5,157.6],[63.7,164.8],[63.9,160.5],[64.0,151.7],[64.2,135],[64.4,125.5]];

// ---- Tick labels ----
const araXTicks = ['0','5','10','15','20','25','30'];
const araLeftTicks = ['0.0','0.2','0.4','0.6','0.8'];
const araRightTicks = ['0','10','20','30','40','50','60','70'];
const maizeXTicks = ['0','50','100','150','200'];
const maizeLeftTicks = ['0.0','0.1','0.2','0.3','0.4'];
const maizeRightTicks = ['0.00','0.25','0.50','0.75','1.00','1.25','1.50','1.75'];
const sorghumXTicks = ['0','10','20','30','40','50','60','70'];
const sorghumLeftTicks = ['0.0','0.2','0.4','0.6','0.8'];
const sorghumRightTicks = ['0','20','40','60','80','100','120'];
const tomatoXTicks = ['0','10','20','30','40','50','60'];
const tomatoLeftTicks = ['0.0','0.2','0.4','0.6','0.8','1.0'];
const tomatoRightTicks = ['0','25','50','75','100','125','150','175'];

// ---- Styling ----
const BLUE = '#1f77b4';
const PINK = '#ee82ee';
const FONT = '"DejaVu Sans", sans-serif';
const NARROW = '"DejaVu Sans Condensed", "DejaVu Sans", sans-serif';

// frame + legend boxes + right-hand title
const decorations = {
  id: 'decorations',
  afterDatasetsDraw(chart, args, opts) {
    const { ctx, chartArea: a } = chart;
    ctx.save();
    ctx.strokeStyle = '#333';
    ctx.lineWidth = 1;
    ctx.strokeRect(a.left + 0.5, a.top + 0.5, a.right - a.left - 1, a.bottom - a.top - 1);

    ctx.font = '14px ' + NARROW;
    ctx.textBaseline = 'middle';
    chart.data.datasets.forEach(ds => {
      const w = 49 + ctx.measureText(ds.label).width;
      const x = ds.yAxisID === 'y' ? a.left + 7 : a.right - 6 - w;
      const y = a.top + 6, h = 24;
      ctx.beginPath();
      ctx.roundRect(x + 0.5, y + 0.5, w, h, 3);
      ctx.fillStyle = 'rgba(255,255,255,0.8)';
      ctx.fill();
      ctx.strokeStyle = '#d6d6d6';
      ctx.stroke();
      ctx.beginPath();
      ctx.moveTo(x + 6, y + 12.5);
      ctx.lineTo(x + 34, y + 12.5);
      ctx.strokeStyle = ds.borderColor;
      ctx.lineWidth = 1.6;
      ctx.stroke();
      ctx.lineWidth = 1;
      ctx.fillStyle = '#222';
      ctx.fillText(ds.label, x + 42, y + 13);
    });

    // right axis title reads bottom-to-top, like the left one
    ctx.translate(chart.width - 18, (a.top + a.bottom) / 2);
    ctx.rotate(-Math.PI / 2);
    ctx.font = '15px ' + FONT;
    ctx.textAlign = 'center';
    ctx.fillStyle = '#111';
    ctx.fillText(opts.text, 0, 0);
    ctx.restore();
  }
};

function fixedTicks(labels) {
  return axis => { axis.ticks = labels.map(l => ({ value: parseFloat(l) })); };
}

function makePanel(id, title, rec, chh, xTicks, leftTicks, rightTicks, xr, lr, rr) {
  const tickFont = { family: NARROW, size: 11 };
  const tickGrid = { display: true, drawOnChartArea: false, drawTicks: true, tickLength: 4, color: '#333' };
  return new Chart(document.getElementById(id), {
    type: 'line',
    data: {
      datasets: [
        { label: 'Recombination', data: rec.map(([x, y]) => ({ x, y })), yAxisID: 'y',
          borderColor: BLUE, borderWidth: 1.6, pointRadius: 0, tension: 0, order: 1 },
        { label: 'CHH', data: chh.map(([x, y]) => ({ x, y })), yAxisID: 'y1',
          borderColor: PINK, borderWidth: 1.4, pointRadius: 0, tension: 0, order: 0 }
      ]
    },
    options: {
      responsive: true,
      maintainAspectRatio: false,
      animation: false,
      devicePixelRatio: 1,
      layout: { padding: 0 },
      plugins: {
        legend: { display: false },
        tooltip: { enabled: false },
        title: { display: true, text: title, color: '#111',
          font: { family: FONT, size: 21, weight: 'normal' }, padding: { top: 9, bottom: 2 } },
        decorations: { text: 'Methylated cytosines by 100kb' }
      },
      scales: {
        x: {
          type: 'linear', min: xr[0], max: xr[1],
          afterBuildTicks: fixedTicks(xTicks),
          afterFit: s => { s.height = 41; },
          ticks: { autoSkip: false, maxRotation: 0, color: '#222', font: tickFont, padding: 2,
            callback: (v, i) => xTicks[i] },
          grid: tickGrid, border: { display: false },
          title: { display: true, text: 'Chromosome length (Mb)', color: '#111',
            font: { family: FONT, size: 16 }, padding: { top: 0, bottom: 1 } }
        },
        y: {
          type: 'linear', position: 'left', min: lr[0], max: lr[1],
          afterBuildTicks: fixedTicks(leftTicks),
          afterFit: s => { s.width = 55; },
          ticks: { autoSkip: false, color: '#222', font: tickFont, padding: 3,
            callback: (v, i) => leftTicks[i] },
          grid: tickGrid, border: { display: false },
          title: { display: true, text: 'Recombination rate (cM/100kb)', color: '#111',
            font: { family: FONT, size: 15 }, padding: { top: 9 } }
        },
        y1: {
          type: 'linear', position: 'right', min: rr[0], max: rr[1],
          afterBuildTicks: fixedTicks(rightTicks),
          afterFit: s => { s.width = 58; },
          ticks: { autoSkip: false, color: '#222', font: tickFont, padding: 3,
            callback: (v, i) => rightTicks[i] },
          grid: tickGrid, border: { display: false }
        }
      }
    },
    plugins: [decorations]
  });
}

makePanel('ara', 'Arabidopsis chr1', araRecombination, araCHH,
  araXTicks, araLeftTicks, araRightTicks, [-1.42, 31.94], [-0.0425, 0.8925], [-3.45, 72.45]);
makePanel('maize', 'Maize chr2', maizeRecombination, maizeCHH,
  maizeXTicks, maizeLeftTicks, maizeRightTicks, [-11.7, 246.4], [-0.022, 0.467], [-0.09, 1.89]);
makePanel('sorghum', 'Sorghum chr3', sorghumRecombination, sorghumCHH,
  sorghumXTicks, sorghumLeftTicks, sorghumRightTicks, [-3.66, 76.86], [-0.043, 0.91], [-6, 128]);
makePanel('tomato', 'Tomato chr4', tomatoRecombination, tomatoCHH,
  tomatoXTicks, tomatoLeftTicks, tomatoRightTicks, [-3.17, 67.6], [-0.049, 1.03], [-9.3, 197]);
</script>
</body>
</html>
